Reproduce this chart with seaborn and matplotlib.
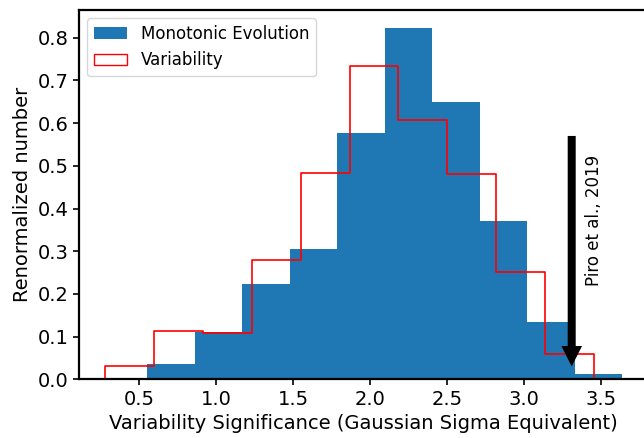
import numpy as np
import matplotlib
matplotlib.use("Agg")
import matplotlib.pyplot as plt
import seaborn as sns
from matplotlib.patches import Patch

# Bin edges and normalized heights
mono_edges = [0.552, 0.861, 1.169, 1.478, 1.787, 2.095, 2.404, 2.712, 3.021, 3.330, 3.638]
mono_heights = [0.0365, 0.111, 0.223, 0.305, 0.578, 0.823, 0.649, 0.371, 0.135, 0.0124]

var_edges = [0.275, 0.593, 0.911, 1.229, 1.547, 1.866, 2.184, 2.502, 2.820, 3.138, 3.456]
var_heights = [0.030, 0.113, 0.109, 0.279, 0.483, 0.734, 0.607, 0.482, 0.251, 0.060]

x_ticks = [0.5, 1.0, 1.5, 2.0, 2.5, 3.0, 3.5]
y_ticks = [0.0, 0.1, 0.2, 0.3, 0.4, 0.5, 0.6, 0.7, 0.8]

piro_x = 3.31
arrow_top = 0.57
arrow_tip = 0.03

plt.rcParams['font.family'] = ['DejaVu Sans']
plt.rcParams['font.size'] = 14

fig = plt.figure(figsize=(6.44, 4.38), dpi=100)
ax = fig.add_axes([79 / 644, (438 - 379.3) / 438, (648 - 79) / 644, 369.3 / 438])

mono_centers = [(a + b) / 2 for a, b in zip(mono_edges[:-1], mono_edges[1:])]
var_centers = [(a + b) / 2 for a, b in zip(var_edges[:-1], var_edges[1:])]

sns.histplot(x=mono_centers, weights=mono_heights, bins=mono_edges, element="bars",
             stat="count", color="#1f77b4", alpha=1.0, edgecolor="none", linewidth=0, ax=ax)
sns.histplot(x=var_centers, weights=var_heights, bins=var_edges, element="step",
             stat="count", fill=True, color="red", facecolor="none", edgecolor="red",
             linewidth=1.2, ax=ax)

ax.arrow(piro_x, arrow_top, 0, arrow_tip - arrow_top, width=0.052, head_width=0.134,
         head_length=0.048, length_includes_head=True, color="black", linewidth=0)
ax.text(3.455, 0.373, "Piro et al., 2019", rotation=90, ha="center", va="center", fontsize=12)

ax.set_xlim(0.107, 3.806)
ax.set_ylim(0, 0.865)
ax.set_xticks(x_ticks)
ax.set_yticks(y_ticks)
ax.set_xlabel("Variability Significance (Gaussian Sigma Equivalent)", fontsize=14)
ax.set_ylabel("Renormalized number", fontsize=14)
ax.tick_params(labelsize=14)
for s in ax.spines.values():
    s.set_linewidth(1.6)
ax.tick_params(width=1.2, length=4)

handles = [Patch(facecolor="#1f77b4", edgecolor="none"),
           Patch(facecolor="none", edgecolor="red")]
ax.legend(handles, ["Monotonic Evolution", "Variability"], loc="upper left", fontsize=12)

fig.savefig("out.png", dpi=100)
